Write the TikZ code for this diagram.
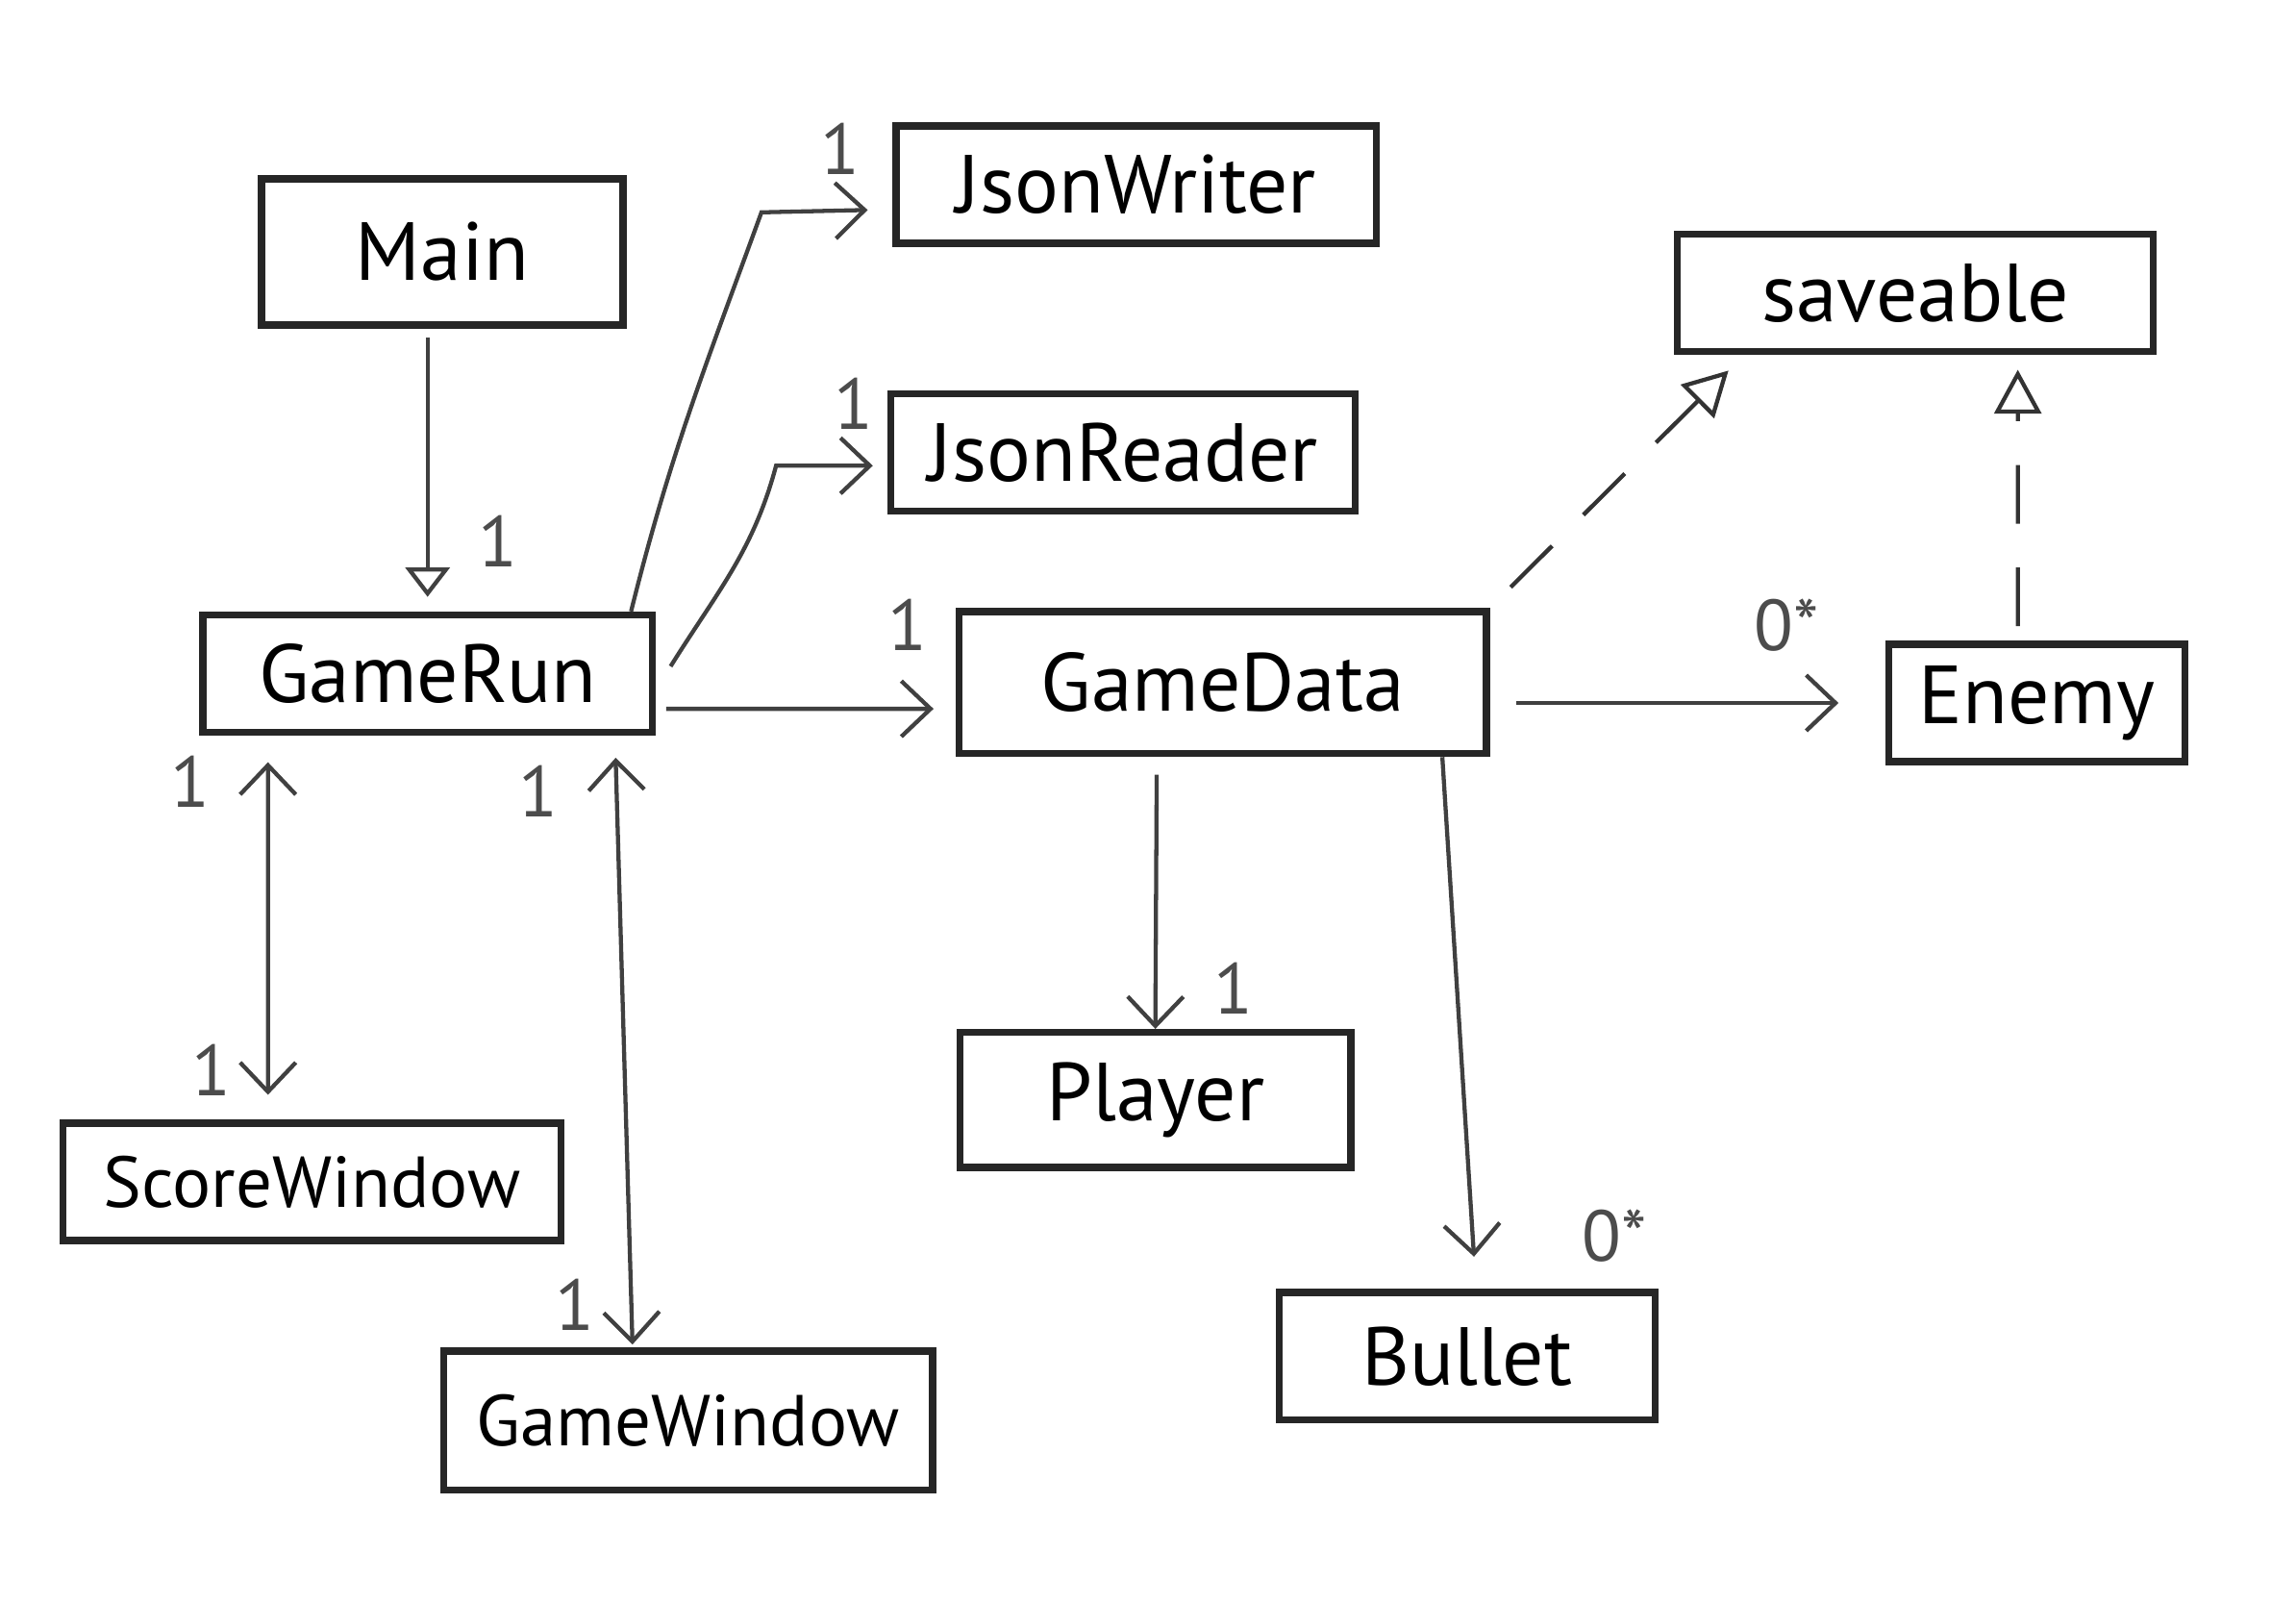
\documentclass[tikz,border=0pt]{standalone}
\usepackage{fontspec}
\setmainfont{PT Sans}
\usetikzlibrary{arrows.meta,positioning}

\tikzset{
  cls/.style={draw=black!85, line width=1.4pt, minimum height=0.8cm,
              font=\fontsize{16}{19}\selectfont, inner sep=2pt},
  wide/.style={font=\fontsize{14}{17}\selectfont},
  mult/.style={font=\fontsize{14}{16}\selectfont, text=black!70, inner sep=1pt},
  assoc/.style={->, line width=0.8pt, draw=black!75},
  real/.style={-{Triangle[open,length=3mm,width=3.2mm]}, line width=0.8pt,
               draw=black!80, dash pattern=on 4mm off 3mm}
}

\begin{document}
\begin{tikzpicture}[>={Straight Barb[length=2mm,width=3.8mm]}]
  \fill[white] (0,0) rectangle (15.68,-10.95);

  % classes
  \node[cls, minimum width=2.47cm, minimum height=1cm]    (Main)        at (3.02,-1.72)  {Main};
  \node[cls, minimum width=3.28cm]                        (JsonWriter)  at (7.76,-1.26)  {JsonWriter};
  \node[cls, minimum width=3.17cm]                        (JsonReader)  at (7.67,-3.09)  {JsonReader};
  \node[cls, minimum width=3.25cm]                        (saveable)    at (13.08,-2.0)  {saveable};
  \node[cls, minimum width=3.07cm]                        (GameRun)     at (2.92,-4.6)   {GameRun};
  \node[cls, minimum width=3.6cm, minimum height=0.97cm]  (GameData)    at (8.35,-4.66)  {GameData};
  \node[cls, minimum width=2.02cm]                        (Enemy)       at (13.91,-4.8)  {Enemy};
  \node[cls, minimum width=2.67cm, minimum height=0.92cm] (Player)      at (7.89,-7.51)  {Player};
  \node[cls, wide, minimum width=3.4cm]                   (ScoreWindow) at (2.13,-8.07)  {ScoreWindow};
  \node[cls, wide, minimum width=3.34cm, minimum height=0.95cm] (GameWindow) at (4.70,-9.70) {GameWindow};
  \node[cls, minimum width=2.57cm, minimum height=0.87cm] (Bullet)      at (10.02,-9.26) {Bullet};

  % associations
  \draw[assoc, -{Triangle[open,length=2mm,width=3mm]}, shorten <=0.6mm, shorten >=1mm]
        (GameRun.north |- Main.south) -- node[mult, pos=0.75, right=3mm] {1} (GameRun.north);
  \draw[assoc, shorten >=1.7mm] ([xshift=-1.7mm]GameRun.north east) to[out=76,in=-110] (5.2,-1.45)
        -- node[mult, pos=0.6, above=2mm] {1} ([yshift=-1.7mm]JsonWriter.west);
  \draw[assoc, shorten >=1mm] ([yshift=0.5mm,xshift=1mm]GameRun.east) to[out=58,in=-105] (5.3,-3.18)
        -- node[mult, pos=0.7, above=2mm] {1} ([yshift=-0.9mm]JsonReader.west);
  \draw[assoc, shorten <=0.7mm, shorten >=1.5mm] ([yshift=-2.4mm]GameRun.east)
        -- node[mult, pos=0.84, above=3.5mm] {1} ([yshift=-1.8mm]GameData.west);
  \draw[assoc, <->, shorten <=1.8mm, shorten >=1.7mm] ([xshift=-10.9mm]GameRun.south)
        -- node[mult, pos=0.12, left=3.5mm] {1} node[mult, pos=0.87, left=2mm] {1}
           ([xshift=-3mm]ScoreWindow.north);
  \draw[assoc, <->, shorten <=1.5mm, shorten >=0.2mm] ([xshift=12.8mm]GameRun.south)
        -- node[mult, pos=0.09, left=3.5mm] {1} node[mult, pos=0.93, left=2mm] {1}
           ([xshift=-3.8mm]GameWindow.north);
  \draw[assoc, shorten <=1.8mm, shorten >=3.2mm] ([yshift=-1.4mm]GameData.east)
        -- node[mult, pos=0.75, above=3mm] {0*} (Enemy.west);
  \draw[assoc, shorten <=1.2mm] ([xshift=-4.5mm]GameData.south)
        -- node[mult, pos=0.85, right=3.5mm] {1} (Player.north);
  \draw[assoc, shorten >=2.2mm] ([xshift=15mm]GameData.south)
        -- node[mult, pos=0.9, right=7mm] {0*} ([xshift=0.6mm]Bullet.north);

  % realizations
  \draw[real, shorten <=2mm, shorten >=1.5mm] (GameData.north east) -- ([xshift=4.8mm]saveable.south west);
  \draw[real, shorten <=1mm, shorten >=1mm] ([xshift=-1.3mm]Enemy.north) -- ([xshift=7mm]saveable.south);
\end{tikzpicture}
\end{document}
